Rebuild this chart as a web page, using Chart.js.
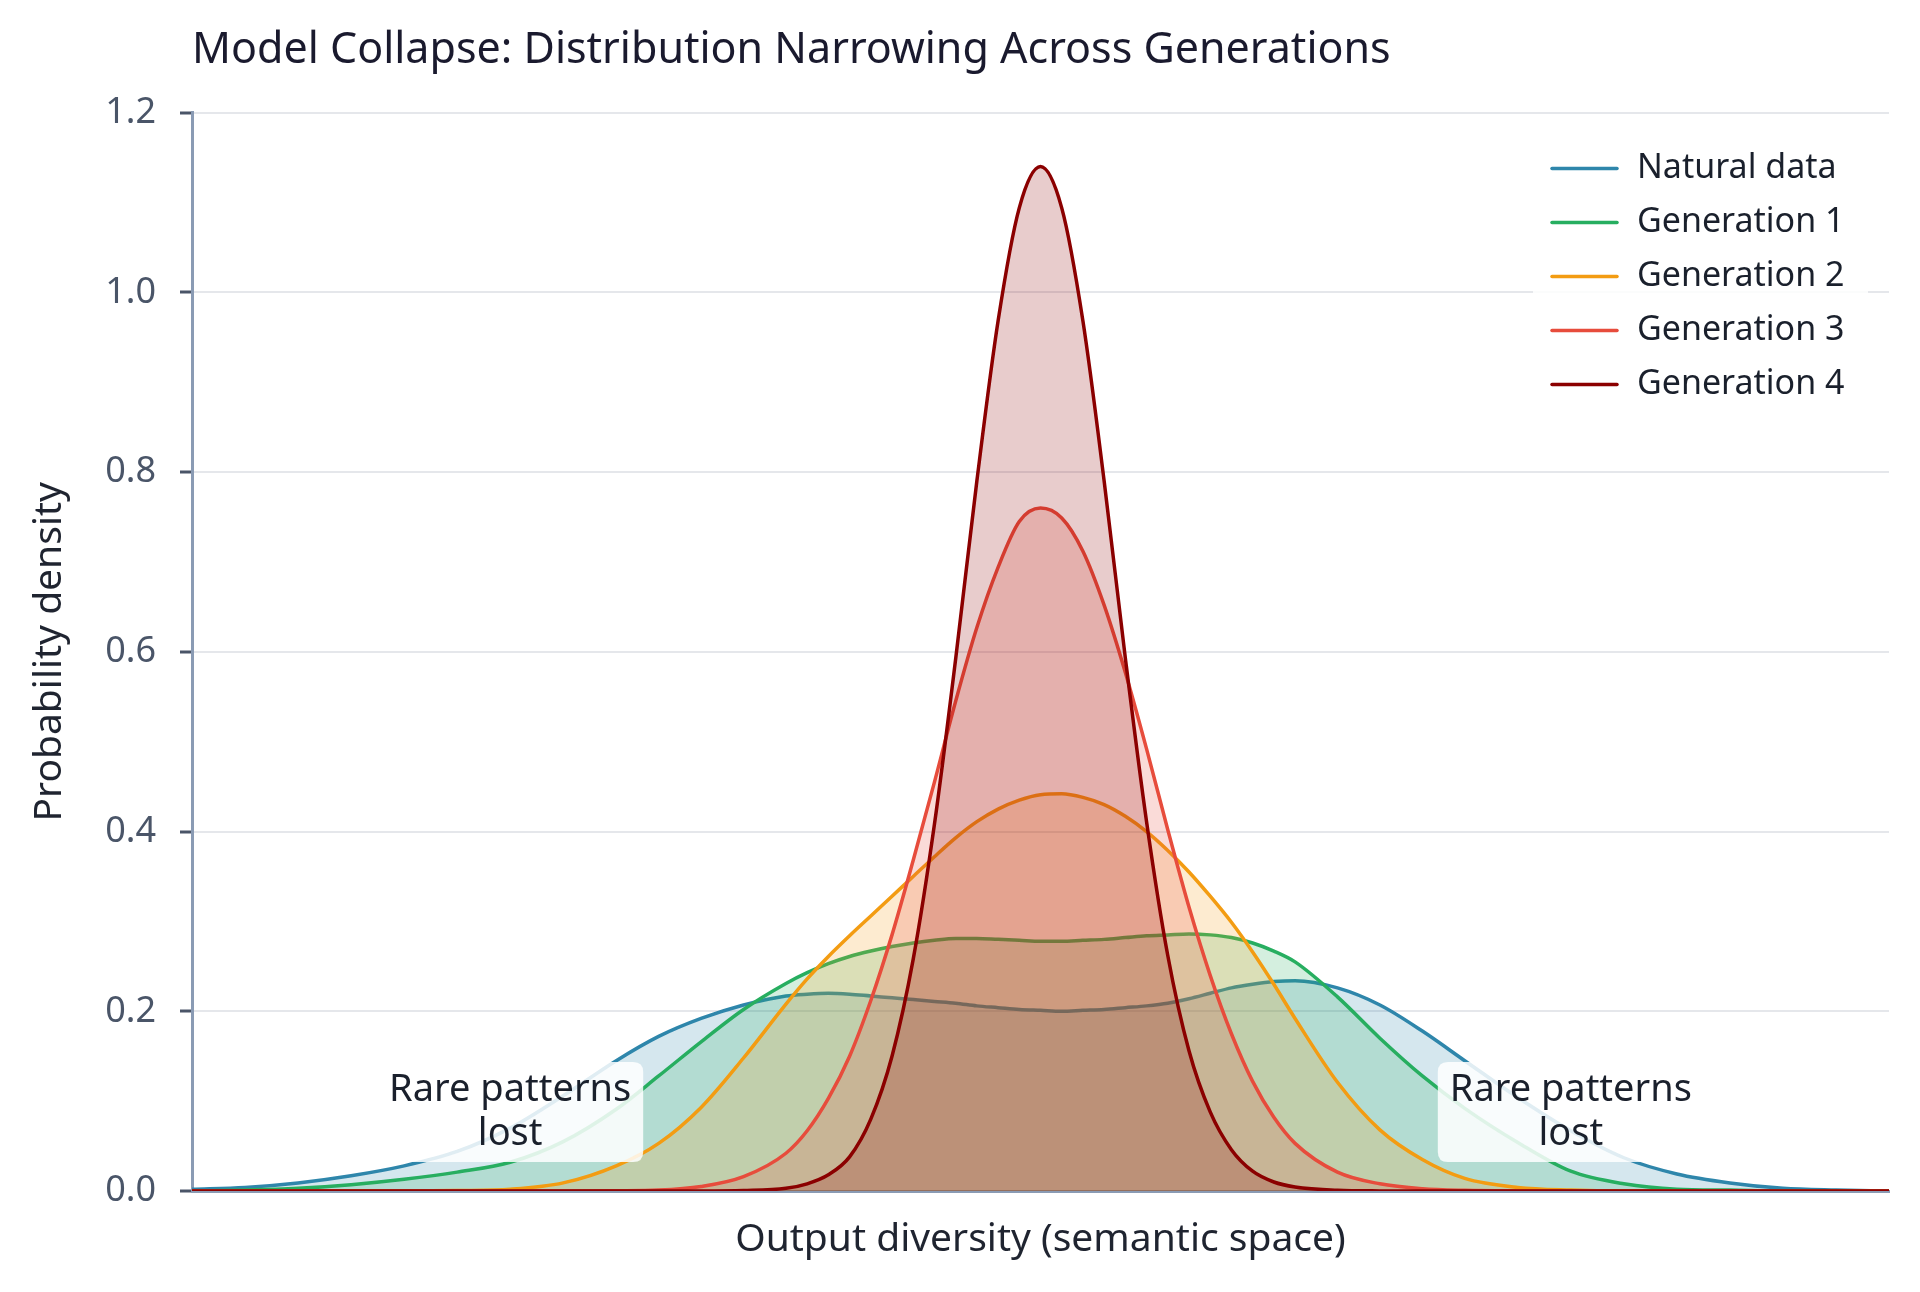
<!DOCTYPE html>
<html>
<head>
<meta charset="utf-8">
<title>Model Collapse: Distribution Narrowing Across Generations</title>
<script src="https://cdn.jsdelivr.net/npm/chart.js@4.4.1/dist/chart.umd.min.js"></script>
<style>
  html, body { margin: 0; padding: 0; background: #ffffff; }
  #collapseChart { display: block; }
</style>
</head>
<body>
<canvas id="collapseChart" width="1920" height="1292"></canvas>
<script>
// Positions in semantic space (finer steps around the centre where curves are narrow)
const xValues = [
  -4, -3.75, -3.5, -3.25, -3, -2.75, -2.5, -2.25, -2,
  -1.8, -1.6, -1.4, -1.2,
  -1.1, -1, -0.9, -0.8, -0.7, -0.6, -0.5, -0.4, -0.3, -0.2, -0.1, 0,
  0.1, 0.2, 0.3, 0.4, 0.5, 0.6, 0.7, 0.8, 0.9, 1, 1.1,
  1.2, 1.4, 1.6, 1.8,
  2, 2.25, 2.5, 2.75, 3, 3.25, 3.5, 3.75, 4
];

const naturalData = [
  0.002, 0.004, 0.009, 0.017, 0.028, 0.044, 0.070, 0.106, 0.145,
  0.172, 0.192, 0.207, 0.217,
  0.219, 0.220, 0.219, 0.217, 0.215, 0.213, 0.211, 0.209, 0.206, 0.204, 0.202, 0.201,
  0.200, 0.201, 0.202, 0.204, 0.206, 0.209, 0.214, 0.220, 0.226, 0.230, 0.233,
  0.234, 0.226, 0.207, 0.178,
  0.145, 0.104, 0.067, 0.037, 0.019, 0.009, 0.003, 0.001, 0
];

const generation1 = [
  0, 0.001, 0.003, 0.007, 0.013, 0.021, 0.032, 0.055, 0.091,
  0.128, 0.166, 0.202, 0.231,
  0.243, 0.253, 0.261, 0.267, 0.272, 0.276, 0.279, 0.281, 0.281, 0.280, 0.279, 0.278,
  0.278, 0.279, 0.280, 0.282, 0.284, 0.285, 0.286, 0.285, 0.282, 0.276, 0.267,
  0.255, 0.216, 0.170, 0.128,
  0.092, 0.054, 0.022, 0.008, 0.002, 0.001, 0, 0, 0
];

const generation2 = [
  0, 0, 0, 0, 0, 0.0005, 0.002, 0.009, 0.028,
  0.053, 0.093, 0.148, 0.208,
  0.236, 0.261, 0.284, 0.306, 0.328, 0.350, 0.372, 0.393, 0.411, 0.425, 0.435, 0.441,
  0.442, 0.438, 0.430, 0.417, 0.400, 0.379, 0.355, 0.328, 0.299, 0.266, 0.230,
  0.192, 0.121, 0.068, 0.035,
  0.014, 0.004, 0.001, 0, 0, 0, 0, 0, 0
];

const generation3 = [
  0, 0, 0, 0, 0, 0, 0, 0.0001, 0.0003,
  0.001, 0.005, 0.016, 0.042,
  0.067, 0.103, 0.150, 0.212, 0.285, 0.368, 0.455, 0.545, 0.627, 0.694, 0.745, 0.760,
  0.749, 0.712, 0.652, 0.577, 0.492, 0.402, 0.316, 0.240, 0.175, 0.122, 0.082,
  0.053, 0.021, 0.008, 0.0025,
  0.0007, 0.0001, 0, 0, 0, 0, 0, 0, 0
];

const generation4 = [
  0, 0, 0, 0, 0, 0, 0, 0, 0,
  0, 0, 0.0005, 0.003,
  0.008, 0.018, 0.038, 0.080, 0.150, 0.258, 0.408, 0.592, 0.790, 0.968, 1.094, 1.140,
  1.094, 0.968, 0.790, 0.593, 0.411, 0.262, 0.156, 0.088, 0.046, 0.022, 0.010,
  0.0045, 0.0008, 0.0001, 0,
  0, 0, 0, 0, 0, 0, 0, 0, 0
];

const seriesLabels = ['Natural data', 'Generation 1', 'Generation 2', 'Generation 3', 'Generation 4'];
const seriesValues = [naturalData, generation1, generation2, generation3, generation4];
const seriesColors = ['#2e86ab', '#27ae60', '#f39c12', '#e74c3c', '#8b0000'];

const yTicks = [0, 0.2, 0.4, 0.6, 0.8, 1.0, 1.2];

// "Rare patterns lost" notes, in data coordinates
const noteLines = ['Rare patterns', 'lost'];
const noteX = [-2.5, 2.5];
const noteY = 0.088;

const FONT = '"Noto Sans", "DejaVu Sans", sans-serif';
Chart.defaults.font.family = FONT;

function withAlpha(hex, a) {
  const n = parseInt(hex.slice(1), 16);
  return `rgba(${(n >> 16) & 255}, ${(n >> 8) & 255}, ${n & 255}, ${a})`;
}

function roundedBox(ctx, x, y, w, h, r) {
  ctx.beginPath();
  ctx.moveTo(x + r, y);
  ctx.lineTo(x + w - r, y);
  ctx.quadraticCurveTo(x + w, y, x + w, y + r);
  ctx.lineTo(x + w, y + h - r);
  ctx.quadraticCurveTo(x + w, y + h, x + w - r, y + h);
  ctx.lineTo(x + r, y + h);
  ctx.quadraticCurveTo(x, y + h, x, y + h - r);
  ctx.lineTo(x, y + r);
  ctx.quadraticCurveTo(x, y, x + r, y);
  ctx.closePath();
}

// Notes over the tails + legend inside the plot, top right
const overlayPlugin = {
  id: 'overlay',
  afterDatasetsDraw(chart) {
    const { ctx, chartArea, scales } = chart;
    ctx.save();

    // notes
    ctx.font = `38px ${FONT}`;
    ctx.textAlign = 'center';
    ctx.textBaseline = 'middle';
    noteX.forEach(xv => {
      const cx = scales.x.getPixelForValue(xv);
      const cy = scales.y.getPixelForValue(noteY);
      ctx.fillStyle = 'rgba(255, 255, 255, 0.85)';
      roundedBox(ctx, cx - 133, cy - 50, 266, 100, 10);
      ctx.fill();
      ctx.fillStyle = '#1a202c';
      ctx.fillText(noteLines[0], cx, cy - 22);
      ctx.fillText(noteLines[1], cx, cy + 22);
    });

    // legend
    const right = chartArea.right - 21;
    const left = right - 335;
    ctx.fillStyle = 'rgba(255, 255, 255, 0.85)';
    roundedBox(ctx, left, chartArea.top + 17, 335, 292, 8);
    ctx.fill();
    ctx.font = `34px ${FONT}`;
    ctx.textAlign = 'left';
    ctx.lineCap = 'round';
    chart.data.datasets.forEach((ds, i) => {
      const y = chartArea.top + 56 + i * 54;
      ctx.strokeStyle = ds.borderColor;
      ctx.lineWidth = 3.5;
      ctx.beginPath();
      ctx.moveTo(left + 19, y);
      ctx.lineTo(left + 84, y);
      ctx.stroke();
      ctx.fillStyle = '#1a202c';
      ctx.fillText(ds.label, left + 104, y);
    });

    ctx.restore();
  }
};

const datasets = seriesLabels.map((label, i) => ({
  label: label,
  data: xValues.map((x, j) => ({ x: x, y: seriesValues[i][j] })),
  borderColor: seriesColors[i],
  backgroundColor: withAlpha(seriesColors[i], 0.2),
  borderWidth: 3.5,
  fill: 'origin',
  pointRadius: 0,
  cubicInterpolationMode: 'monotone',
  order: seriesLabels.length - 1 - i   // later generations on top
}));

const axisColor = '#8a9bb4';

new Chart(document.getElementById('collapseChart').getContext('2d'), {
  type: 'line',
  data: { datasets },
  plugins: [overlayPlugin],
  options: {
    responsive: false,
    animation: false,
    devicePixelRatio: 1,
    layout: { padding: { left: 0, right: 31, top: 0, bottom: 0 } },
    scales: {
      x: {
        type: 'linear',
        min: -4,
        max: 4,
        grid: { display: false },
        ticks: { display: false },
        border: { color: axisColor, width: 3 },
        title: {
          display: true,
          text: 'Output diversity (semantic space)',
          color: '#1f2430',
          font: { size: 39 },
          padding: { top: 0, bottom: 29 }
        },
        afterFit: s => { s.height = 101; }
      },
      y: {
        type: 'linear',
        min: 0,
        max: 1.2,
        afterBuildTicks: axis => { axis.ticks = yTicks.map(v => ({ value: v })); },
        ticks: {
          callback: v => Number(v).toFixed(1),
          color: '#4a5568',
          font: { size: 36 },
          padding: 24
        },
        grid: {
          color: '#e5e7eb',
          lineWidth: 2,
          drawTicks: true,
          tickLength: 12,
          tickColor: '#4a5568',
          tickWidth: 3
        },
        border: { color: axisColor, width: 3 },
        title: {
          display: true,
          text: 'Probability density',
          color: '#1f2430',
          font: { size: 39 },
          padding: { top: 26, bottom: 0 }
        },
        afterFit: s => { s.width = 192; }
      }
    },
    plugins: {
      legend: { display: false },
      tooltip: { enabled: false },
      title: {
        display: true,
        text: 'Model Collapse: Distribution Narrowing Across Generations',
        align: 'start',
        fullSize: false,
        color: '#1a1a2e',
        font: { size: 43, weight: 'normal' },
        padding: { top: 25, bottom: 36 }
      }
    }
  }
});
</script>
</body>
</html>
